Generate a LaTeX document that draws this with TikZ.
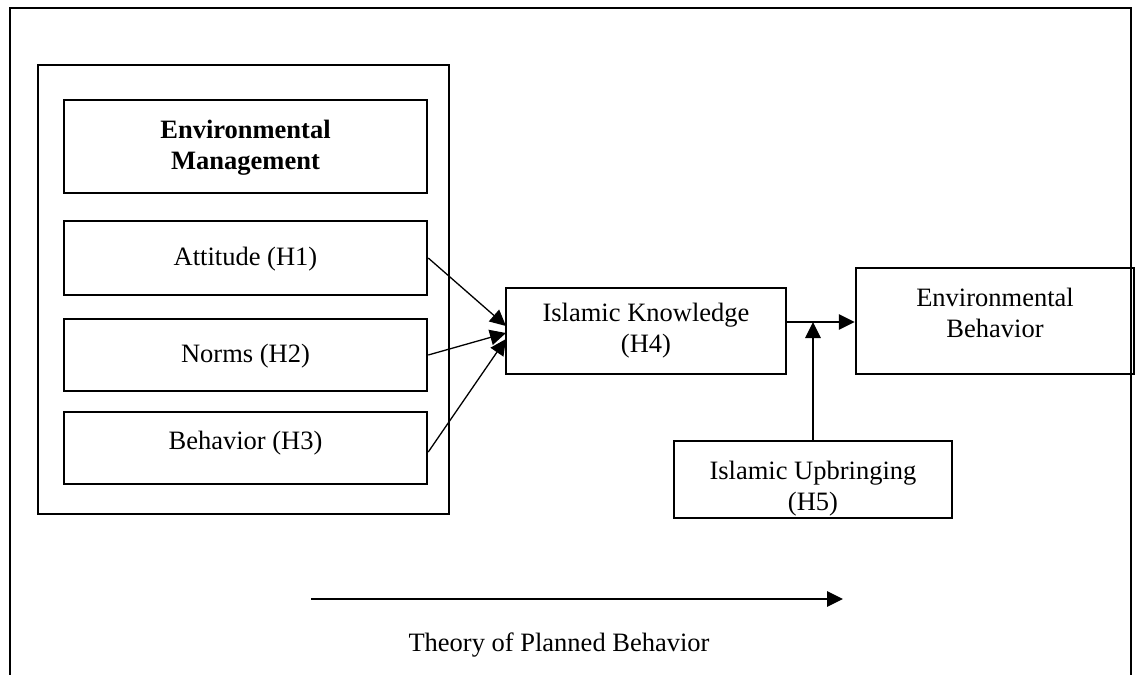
\documentclass[tikz,border=0pt]{standalone}
\usepackage{fontspec}
\setmainfont{Liberation Serif}
\usetikzlibrary{arrows.meta,calc}
\tikzset{
  box/.style={draw, line width=2.5pt, rectangle, inner sep=0pt},
  frame/.style={draw, line width=2pt},
  txt/.style={inner sep=0pt, align=center, font=\fontsize{26.5}{31}\selectfont},
  arr/.style={draw, line width=1.3pt, -{Triangle[length=16pt,width=15.5pt]}},
}
\begin{document}
\begin{tikzpicture}[x=1pt,y=-1pt]
\useasboundingbox (0,0) rectangle (1136,675);
% outer frame (open at bottom)
\draw[frame] (10,676) -- (10,8) -- (1131,8) -- (1131,676);
% big left box
\node[box, minimum width=411pt, minimum height=449pt] (big) at (243.5,289.5) {};
% inner boxes
\node[box, minimum width=363pt, minimum height=93pt] (em) at (245.5,146.5) {};
\node[box, minimum width=363pt, minimum height=74pt] (att) at (245.5,258) {};
\node[box, minimum width=363pt, minimum height=72pt] (nor) at (245.5,355) {};
\node[box, minimum width=363pt, minimum height=72pt] (beh) at (245.5,448) {};
\node[box, minimum width=280pt, minimum height=86pt] (ik) at (646,331) {};
\node[box, minimum width=278pt, minimum height=106pt] (eb) at (995,321) {};
\node[box, minimum width=278pt, minimum height=77pt] (iu) at (813,479.5) {};
% texts
\node[txt, anchor=north, font=\fontsize{26.5}{31}\selectfont\bfseries] (emt) at (245.5,120) {Environmental\\Management};
\node[txt, anchor=base] (attt) at (245.5,265) {Attitude (H1)};
\node[txt, anchor=base] (nort) at (245.5,362) {Norms (H2)};
\node[txt, anchor=base] (beht) at (245.5,449) {Behavior (H3)};
\node[txt, anchor=north] (ikt) at (646,303) {Islamic Knowledge\\(H4)};
\node[txt, anchor=north] (ebt) at (995,288) {Environmental\\Behavior};
\node[txt, anchor=north] (iut) at (813,461) {Islamic Upbringing\\(H5)};
% connectors
\coordinate (ta) at (506,326);
\coordinate (tn) at (506,333);
\coordinate (tb) at (506,339);
\draw[arr] (att.east) -- (ta);
\draw[arr] (nor.east) -- (tn);
\draw[arr] ($(beh.east)+(0,4)$) -- (tb);
\coordinate (m) at (813,322);
\draw[arr] (ik.east |- m) -- (eb.west |- m);
\draw[arr] (iu.north) -- (m);
% theory arrow
\coordinate (ts) at (311,599);
\coordinate (te) at (843,599);
\draw[arr] (ts) -- (te);
\node[txt, anchor=base] (tpb) at (559,651) {Theory of Planned Behavior};
\end{tikzpicture}
\end{document}
